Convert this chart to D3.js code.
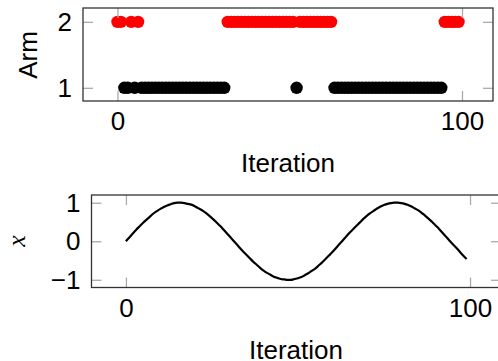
<!DOCTYPE html>
<html>
<head>
<meta charset="utf-8">
<script src="https://cdn.jsdelivr.net/npm/d3@7"></script>
<style>
  body { margin: 0; background: #fff; }
  svg text { font-family: "Liberation Sans", Arial, sans-serif; fill: #000; }
</style>
</head>
<body>
<div id="chart"></div>
<script>
// arm chosen at each iteration (0..99)
var arms = [2, 2, 1, 1, 2, 1, 2,
  1, 1, 1, 1, 1, 1, 1, 1, 1, 1, 1, 1, 1, 1, 1, 1, 1, 1, 1, 1, 1, 1, 1, 1, 1,
  2, 2, 2, 2, 2, 2, 2, 2, 2, 2, 2, 2, 2, 2, 2, 2, 2, 2, 2, 2,
  1,
  2, 2, 2, 2, 2, 2, 2, 2, 2, 2,
  1, 1, 1, 1, 1, 1, 1, 1, 1, 1, 1, 1, 1, 1, 1, 1, 1, 1, 1, 1, 1, 1, 1, 1, 1, 1, 1, 1, 1, 1, 1, 1,
  2, 2, 2, 2, 2];

// x value at each iteration (0..99)
var xVals = [0.00, 0.10, 0.20, 0.30, 0.39, 0.48, 0.56, 0.64, 0.72, 0.78,
  0.84, 0.89, 0.93, 0.96, 0.99, 1.00, 1.00, 0.99, 0.97, 0.95,
  0.91, 0.86, 0.81, 0.75, 0.68, 0.60, 0.52, 0.43, 0.34, 0.24,
  0.14, 0.04, -0.06, -0.16, -0.26, -0.35, -0.44, -0.53, -0.61, -0.69,
  -0.76, -0.82, -0.87, -0.92, -0.95, -0.98, -0.99, -1.00, -1.00, -0.98,
  -0.96, -0.93, -0.88, -0.83, -0.77, -0.71, -0.63, -0.55, -0.46, -0.37,
  -0.28, -0.18, -0.08, 0.02, 0.12, 0.22, 0.31, 0.40, 0.49, 0.58,
  0.66, 0.73, 0.79, 0.85, 0.90, 0.94, 0.97, 0.99, 1.00, 1.00,
  0.99, 0.97, 0.94, 0.90, 0.85, 0.80, 0.73, 0.66, 0.58, 0.50,
  0.41, 0.32, 0.22, 0.12, 0.02, -0.08, -0.17, -0.27, -0.37, -0.46];

var xTicks = [0, 100];
var armTicks = [1, 2];
var valTicks = [-1, 0, 1];
var armColors = {1: "#000000", 2: "#ff0000"};

var svg = d3.select("#chart").append("svg")
  .attr("width", 498)
  .attr("height", 361);

svg.append("rect").attr("width", 498).attr("height", 361).attr("fill", "#fff");

function frame(g, x, y, xt, yt) {
  var tick = 10;
  g.append("g").attr("transform", "translate(0," + y.range()[0] + ")")
    .call(d3.axisBottom(x).tickValues(xt).tickSizeInner(-tick).tickSizeOuter(0).tickPadding(11).tickFormat(d3.format("d")));
  g.append("g").attr("transform", "translate(0," + y.range()[1] + ")")
    .call(d3.axisTop(x).tickValues(xt).tickSizeInner(-tick).tickSizeOuter(0).tickFormat(""));
  g.append("g").attr("transform", "translate(" + x.range()[0] + ",0)")
    .call(d3.axisLeft(y).tickValues(yt).tickSizeInner(-tick).tickSizeOuter(0).tickPadding(11).tickFormat(d3.format("d")));
  g.append("g").attr("transform", "translate(" + x.range()[1] + ",0)")
    .call(d3.axisRight(y).tickValues(yt).tickSizeInner(-tick).tickSizeOuter(0).tickFormat(""));
  g.selectAll(".domain").remove();
  g.selectAll(".tick line").attr("stroke", "#aaa").attr("stroke-width", 1.3);
  g.selectAll(".tick text").style("font-size", "26px");
  g.append("rect")
    .attr("x", x.range()[0]).attr("y", y.range()[1])
    .attr("width", x.range()[1] - x.range()[0])
    .attr("height", y.range()[0] - y.range()[1])
    .attr("fill", "none").attr("stroke", "#333").attr("stroke-width", 1.3);
}

// top: arm per iteration
var x1 = d3.scaleLinear().domain([-10, 109]).range([83, 493]);
var y1 = d3.scaleLinear().domain([0.8, 2.21]).range([101, 8]);
var armPlot = svg.append("g");

armPlot.selectAll("circle").data(arms).enter().append("circle")
  .attr("cx", function (d, i) { return x1(i); })
  .attr("cy", function (d) { return y1(d); })
  .attr("r", 6.2)
  .attr("fill", function (d) { return armColors[d]; });

frame(armPlot, x1, y1, xTicks, armTicks);

armPlot.append("text").attr("x", 288).attr("y", 172)
  .attr("text-anchor", "middle").style("font-size", "26px").text("Iteration");
armPlot.append("text").attr("transform", "translate(37,55) rotate(-90)")
  .attr("text-anchor", "middle").style("font-size", "26px").text("Arm");

// bottom: x per iteration
var x2 = d3.scaleLinear().domain([-10, 109]).range([91.5, 501]);
var y2 = d3.scaleLinear().domain([-1.2, 1.2]).range([287.5, 195]);
var valPlot = svg.append("g");

valPlot.append("path").datum(xVals)
  .attr("fill", "none").attr("stroke", "#000").attr("stroke-width", 2.2)
  .attr("d", d3.line().x(function (d, i) { return x2(i); }).y(function (d) { return y2(d); }).curve(d3.curveMonotoneX));

frame(valPlot, x2, y2, xTicks, valTicks);

valPlot.append("text").attr("x", 296).attr("y", 359)
  .attr("text-anchor", "middle").style("font-size", "26px").text("Iteration");
valPlot.append("text").attr("transform", "translate(25,241) rotate(-90)")
  .attr("text-anchor", "middle").style("font-size", "26px")
  .style("font-family", "'Liberation Serif', serif").style("font-style", "italic").text("x");
</script>
</body>
</html>
